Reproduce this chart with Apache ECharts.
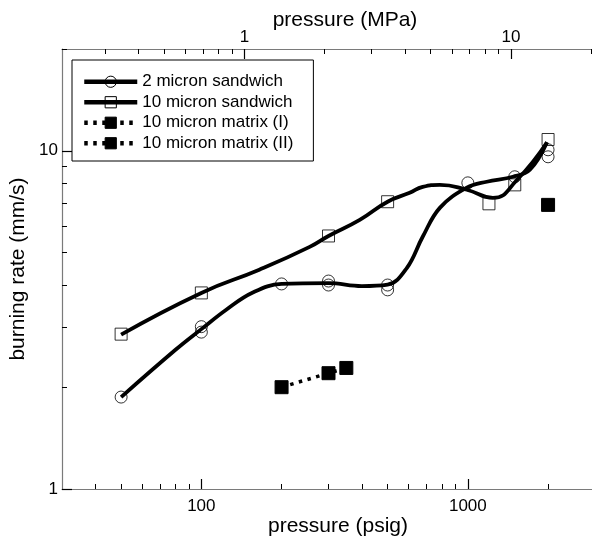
<!DOCTYPE html>
<html><head><meta charset="utf-8">
<script src="https://cdn.jsdelivr.net/npm/echarts@6/dist/echarts.min.js"></script>
<style>html,body{margin:0;padding:0;background:#fff}#c{width:592px;height:543px}</style>
</head><body><div id="c"></div>
<script>
// ---- data ----
const PSI_PER_MPA = 145.04;
const seriesNames = ['2 micron sandwich', '10 micron sandwich', '10 micron matrix (I)', '10 micron matrix (II)'];
// measured points [pressure psig, burning rate mm/s]
const twoMicronPts = [[50,1.87],[100,3.02],[100,2.91],[200,4.04],[300,4.12],[300,4.01],[500,4.01],[500,3.88],[1000,8.04],[1500,8.38],[2000,9.6],[2000,10.07]];
const tenMicronPts = [[50,2.87],[100,3.80],[300,5.6],[500,7.07],[1200,6.97],[1500,7.93],[2000,10.8]];
const matrixIPts = [[200,2.0],[300,2.2],[350,2.28]];
const matrixIIPts = [[2000,6.92]];
// fitted curves
const twoMicronCurve = [[50,1.87],[80,2.58],[100,2.97],[124,3.39],[156,3.81],[200,4.04],[300,4.06],[400,3.98],[500,4.02],[590,4.5],[677,5.57],[785,6.78],[991,7.78],[1178,8.10],[1476,8.38],[1710,8.79],[1982,10.6]];
const tenMicronCurve = [[50,2.86],[100,3.80],[165,4.45],[255,5.2],[300,5.6],[393,6.25],[500,7.07],[605,7.51],[677,7.82],[785,7.93],[991,7.67],[1242,7.26],[1528,8.2],[1982,10.6]];
// tick values
const psigRange = [30, 3000];
const psigMajor = [100, 1000];
const psigMinor = [40,50,60,70,80,90,200,300,400,500,600,700,800,900,2000];
const mpaMajor = [1, 10];
const mpaMinor = [0.3,0.4,0.5,0.6,0.7,0.8,0.9,2,3,4,5,6,7,8,9,20];
const rateRange = [1, 20];
const rateMajor = [1, 10];
const rateMinor = [2,3,4,5,6,7,8,9,20];

// ---- chart ----
const FONT = '"Liberation Sans", Arial, sans-serif';
const AXIS_GRAY = '#7a7a7a';
const fmt = v => String(+Number(v).toPrecision(6));

function axisPair(position, range, minor, major, name, nameOpts) {
  const base = {
    type: 'log', logBase: 10, position: position, min: range[0], max: range[1],
    splitLine: { show: false }, minorTick: { show: false }, minorSplitLine: { show: false }
  };
  const minorAx = Object.assign({}, base, {
    axisLine: { show: true, lineStyle: { color: AXIS_GRAY, width: 1.2 } },
    axisTick: { show: true, inside: true, length: 5, customValues: minor, lineStyle: { color: '#000', width: 1 } },
    axisLabel: { show: false }
  });
  const majorAx = Object.assign({}, base, {
    axisLine: { show: false },
    axisTick: { show: true, inside: true, length: 10, customValues: major, lineStyle: { color: '#000', width: 1.2 } },
    axisLabel: { show: true, customValues: major, formatter: fmt, fontSize: 17, color: '#000', fontFamily: FONT, margin: nameOpts.labelMargin },
    name: name, nameLocation: 'middle', nameGap: nameOpts.nameGap, nameMoveOverlap: false,
    nameTextStyle: Object.assign({ fontSize: nameOpts.nameSize, color: '#000', fontFamily: FONT }, nameOpts.extra || {})
  });
  return [minorAx, majorAx];
}

const xBottom = axisPair('bottom', psigRange, psigMinor, psigMajor, 'pressure (psig)',
  { labelMargin: 9, nameGap: 27, nameSize: 21, extra: { padding: [0, 0, 0, 19] } });
const xTop = axisPair('top', [psigRange[0] / PSI_PER_MPA, psigRange[1] / PSI_PER_MPA], mpaMinor, mpaMajor, 'pressure (MPa)',
  { labelMargin: 3, nameGap: 18, nameSize: 21, extra: { padding: [0, 0, 0, 33] } });
const yLeft = axisPair('left', rateRange, rateMinor, rateMajor, 'burning rate (mm/s)',
  { labelMargin: 4, nameGap: 33, nameSize: 21 });

const curveLine = { color: '#000', width: 3.8 };
const dotLine = { color: '#000', width: 3.5, type: [3.5, 5.5], cap: 'butt' };
const openMarker = { color: 'rgba(0,0,0,0)', borderColor: '#000', borderWidth: 1 };

const option = {
  animation: false,
  backgroundColor: '#fff',
  grid: { left: 62, right: -3, top: 49, bottom: 54, containLabel: false, outerBoundsMode: 'none' },
  xAxis: [xBottom[0], xBottom[1], xTop[0], xTop[1]],
  yAxis: [yLeft[0], yLeft[1]],
  legend: {
    show: true, orient: 'vertical', left: 72, top: 60,
    data: seriesNames,
    padding: [13, 20, 9, 10], itemGap: 3, itemWidth: 53, itemHeight: 14,
    backgroundColor: '#fff', borderColor: '#000', borderWidth: 1, borderRadius: 0,
    textStyle: { fontSize: 17, color: '#000', fontFamily: FONT, lineHeight: 17.5 },
    itemStyle: { borderColor: '#000', borderWidth: 1 },
    lineStyle: { color: '#000', width: 4.5 },
    selectedMode: false
  },
  series: [
    { name: seriesNames[0], type: 'line', smooth: 0.4, data: twoMicronCurve, showSymbol: false,
      symbol: 'circle', itemStyle: openMarker, lineStyle: curveLine, xAxisIndex: 0, yAxisIndex: 0, z: 2, silent: true },
    { name: seriesNames[1], type: 'line', smooth: 0.5, data: tenMicronCurve, showSymbol: false,
      symbol: 'rect', itemStyle: openMarker, lineStyle: curveLine, xAxisIndex: 0, yAxisIndex: 0, z: 2, silent: true },
    { name: seriesNames[2], type: 'line', data: matrixIPts, symbol: 'rect', symbolSize: 13, showAllSymbol: true,
      itemStyle: { color: '#000', borderColor: '#000', borderWidth: 1 }, lineStyle: dotLine, xAxisIndex: 0, yAxisIndex: 0, z: 3, silent: true },
    { name: seriesNames[3], type: 'line', data: matrixIIPts, symbol: 'rect', symbolSize: 13, showAllSymbol: true,
      itemStyle: { color: '#000', borderColor: '#000', borderWidth: 1 }, lineStyle: dotLine, xAxisIndex: 0, yAxisIndex: 0, z: 3, silent: true },
    { name: seriesNames[0] + ' points', type: 'scatter', data: twoMicronPts, symbol: 'circle', symbolSize: 12,
      itemStyle: openMarker, xAxisIndex: 0, yAxisIndex: 0, z: 4, silent: true },
    { name: seriesNames[1] + ' points', type: 'scatter', data: tenMicronPts, symbol: 'rect', symbolSize: 12,
      itemStyle: openMarker, xAxisIndex: 0, yAxisIndex: 0, z: 4, silent: true }
  ]
};
const chart = echarts.init(document.getElementById('c'), null, { renderer: 'canvas' });
chart.setOption(option);
</script>
</body></html>
